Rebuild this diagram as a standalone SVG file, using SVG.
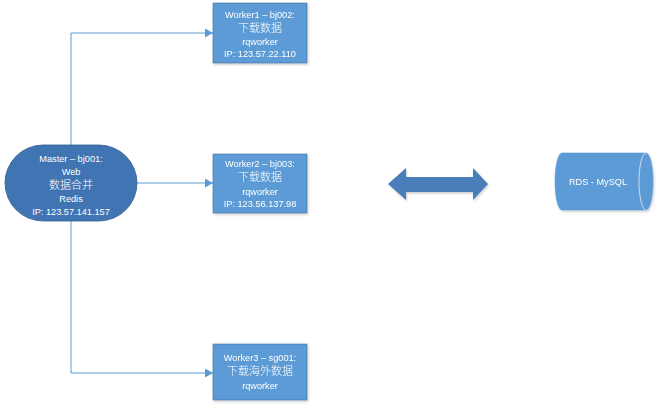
<svg xmlns="http://www.w3.org/2000/svg" width="659" height="408" viewBox="0 0 659 408">
<style>
.conn{fill:none;stroke:#5b9bd5;stroke-width:1}
.box{fill:#5b9bd5;stroke:#41719c;stroke-width:0.6}
.master{fill:#4174b3;stroke:#2f5d90;stroke-width:0.8}
.t{font-family:"Liberation Sans","Noto Sans CJK SC",sans-serif;font-size:9.2px;fill:#ffffff;text-anchor:middle}
.cn{font-family:"Noto Sans CJK SC","Liberation Sans",sans-serif;font-size:11px;font-weight:300;fill:#ffffff;text-anchor:middle}
</style>
<defs>
<marker id="arr" markerUnits="userSpaceOnUse" markerWidth="9" markerHeight="9" refX="8" refY="4.5" orient="auto">
<path d="M0,0 L8,4.5 L0,9 Z" fill="#5b9bd5"/>
</marker>
<filter id="sh" x="-10%" y="-10%" width="130%" height="130%">
<feDropShadow dx="1" dy="1.5" stdDeviation="1.2" flood-color="#000" flood-opacity="0.2"/>
</filter>
</defs>
<rect width="659" height="408" fill="#ffffff"/>
<g id="connectors">
<path class="conn" d="M71,33 V373"/>
<path class="conn" d="M71,33 H213" marker-end="url(#arr)"/>
<path class="conn" d="M137,183 H213" marker-end="url(#arr)"/>
<path class="conn" d="M71,373 H213" marker-end="url(#arr)"/>
</g>
<g id="master">
<rect class="master" x="5" y="145" width="132" height="76" rx="38" ry="38"/>
<text class="t" x="71" y="161.5">Master  –  bj001:</text>
<text class="t" x="71" y="175">Web</text>
<text class="cn" x="71" y="188.5">数据合并</text>
<text class="t" x="71" y="201.5">Redis</text>
<text class="t" x="71" y="214.5">IP: 123.57.141.157</text>
</g>
<g id="worker1" filter="url(#sh)">
<rect class="box" x="213" y="3" width="94" height="60"/>
<text class="t" x="260" y="17.5">Worker1  –  bj002:</text>
<text class="cn" x="260" y="31.5">下载数据</text>
<text class="t" x="260" y="44.5">rqworker</text>
<text class="t" x="260" y="57">IP: 123.57.22.110</text>
</g>
<g id="worker2" filter="url(#sh)">
<rect class="box" x="213" y="154" width="94" height="59"/>
<text class="t" x="260" y="166.5">Worker2  –  bj003:</text>
<text class="cn" x="260" y="181">下载数据</text>
<text class="t" x="260" y="194.5">rqworker</text>
<text class="t" x="260" y="207">IP: 123.56.137.98</text>
</g>
<g id="worker3" filter="url(#sh)">
<rect class="box" x="213" y="344" width="94" height="56"/>
<text class="t" x="260" y="361">Worker3  –  sg001:</text>
<text class="cn" x="260" y="375">下载海外数据</text>
<text class="t" x="260" y="388.5">rqworker</text>
</g>
<g id="double-arrow" filter="url(#sh)">
<path d="M388,184 L406,168 L406,177 L473,177 L473,168 L488,184 L473,200 L473,192 L406,192 L406,200 Z" fill="#4a7ebb"/>
</g>
<g id="rds" filter="url(#sh)">
<path d="M562,153 L646,153 A7,28.5 0 0 1 646,210 L562,210 A7,28.5 0 0 1 562,153 Z" fill="#5b9bd5" stroke="#5b9bd5" stroke-width="0.6"/>
<path d="M646,153 A7,28.5 0 0 0 646,210" fill="none" stroke="#e8f0f8" stroke-width="0.8"/>
<text class="t" x="598" y="184.5">RDS - MySQL</text>
</g>
</svg>
